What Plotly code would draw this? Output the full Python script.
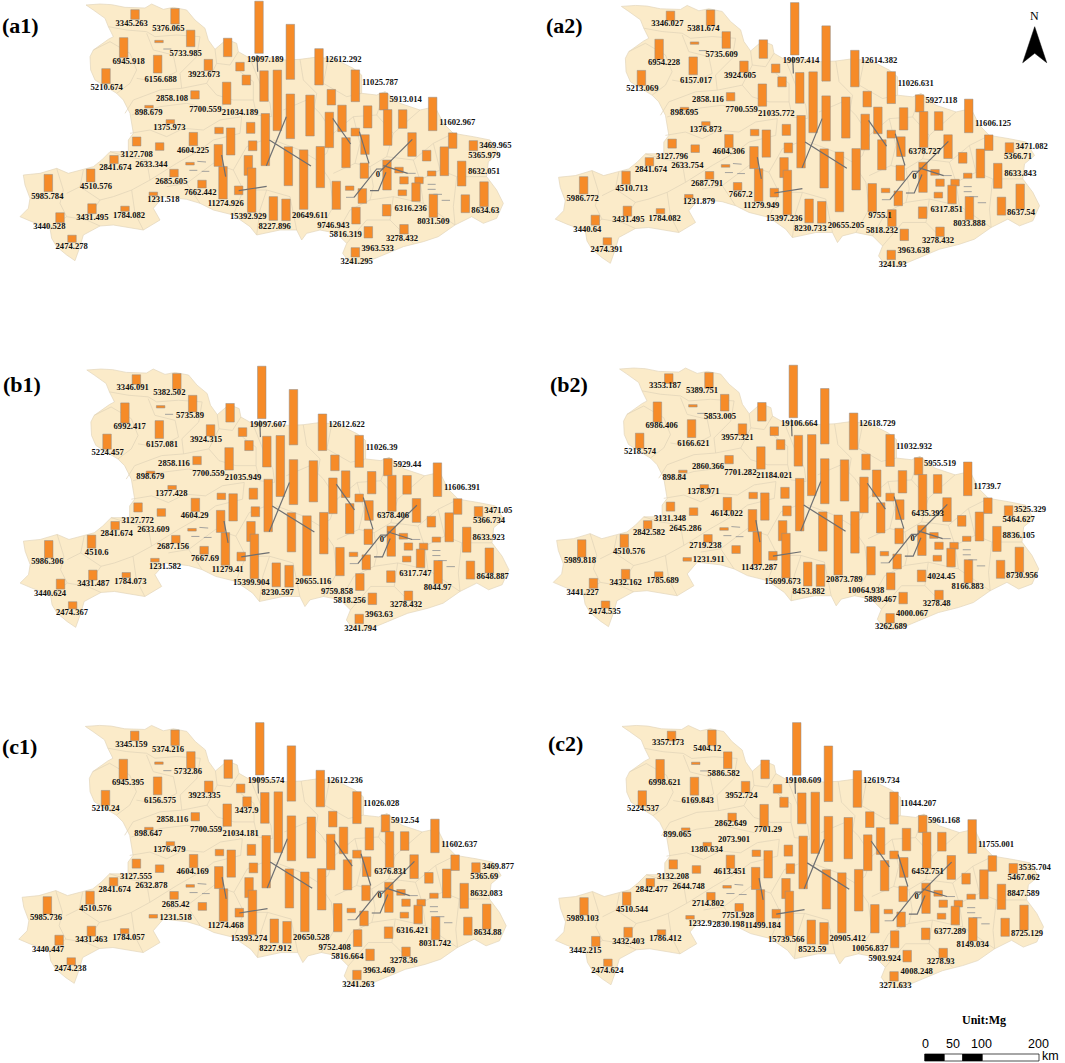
import plotly.graph_objects as go

bar_values = [3345, 5376, 810, 5733, 6945, 6400, 6156, 3923, 3000, 18100, 19097, 3437, 12612, 5210, 10600, 21034,
              11025, 2858, 7700, 898, 5400, 15500, 14200, 5913, 9200, 12300, 18100, 7700, 12400, 6450, 11602, 1376,
              3800, 2200, 9400, 2700, 6800, 8200, 5365, 3469, 3127, 4604, 3400, 2633, 10400, 7600, 13500, 6900,
              14300, 20649, 3700, 10000, 2841, 5300, 900, 8632, 10400, 2000, 4510, 2685, 1750, 5985, 2500, 2300,
              6400, 9746, 2700, 1500, 11274, 3000, 5100, 15392, 2000, 1231, 8031, 8634, 6200, 1784, 3431, 4000,
              8227, 7500, 5816, 3440, 3278, 3963, 2474, 3241]
bar_x = [405, 525, 477, 572, 371, 683, 473, 625, 720, 777, 871, 739, 957, 318, 792, 832,
         1066, 585, 680, 447, 994, 871, 930, 1151, 1026, 988, 796, 1103, 1163, 1208, 1298, 511,
         752, 657, 692, 1066, 1095, 1236, 1358, 1420, 410, 580, 758, 479, 1038, 655, 865, 745,
         961, 911, 1280, 1333, 342, 1093, 570, 1385, 1161, 1197, 272, 522, 1295, 145, 1212, 1257,
         1248, 1009, 606, 1049, 669, 716, 1087, 755, 1207, 460, 1300, 1452, 1396, 375, 276, 1160,
         820, 858, 1068, 180, 1212, 1105, 216, 1066]
bar_bottom = [58, 72, 128, 140, 173, 170, 219, 212, 213, 160, 238, 255, 255, 251, 304, 392,
              305, 297, 313, 324, 315, 416, 408, 330, 395, 443, 497, 384, 436, 385, 392, 371,
              400, 401, 465, 408, 463, 469, 445, 452, 438, 437, 452, 451, 503, 499, 557, 526,
              563, 628, 483, 527, 491, 535, 495, 558, 570, 519, 546, 531, 528, 575, 552, 551,
              604, 628, 564, 571, 597, 584, 610, 637, 587, 587, 652, 620, 638, 634, 641, 648,
              661, 662, 672, 668, 702, 714, 727, 771]

a1_labels = [3345.263, 5376.065, 5733.985, 6945.918, 19097.189, 12612.292, 6156.688, 3923.673, 5210.674, 11025.787,
             2858.108, 5913.014, 7700.559, 21034.189, 898.679, 1375.973, 11602.967, 3127.708, 4604.225, 3469.965,
             5365.979, 2841.674, 2633.344, 8632.051, 0, 2685.605, 4510.576, 7662.442, 5985.784, 1231.518,
             11274.926, 6316.236, 8634.63, 3431.495, 1784.082, 15392.929, 20649.611, 8031.509, 9746.943, 8227.896,
             3440.528, 5816.319, 3278.432, 2474.278, 3963.533, 3241.295]
a1_label_x = [395, 505, 557, 386, 796, 1030, 482, 612, 320, 1140, 516, 1217, 616, 720, 446, 508, 1372, 410, 579, 1486,
              1453, 346, 454, 1452, 1134, 514, 288, 601, 142, 490, 677, 1232, 1456, 277, 387, 745, 930, 1300, 1000,
              824, 148, 1037, 1206, 215, 1133, 1070]
a1_label_y = [72, 87, 163, 187, 180, 180, 241, 226, 265, 249, 296, 300, 329, 338, 338, 385, 369, 465, 452, 438,
              467, 505, 495, 515, 524, 545, 562, 578, 590, 601, 611, 626, 634, 655, 649, 651, 647, 665, 677,
              681, 682, 706, 716, 740, 746, 787]

a2_labels = [3346.027, 5381.674, 5735.609, 6954.228, 19097.414, 12614.382, 6157.017, 3924.605, 5213.069, 11026.631,
             2858.116, 5927.118, 7700.559, 21035.772, 898.695, 1376.873, 11606.125, 6378.727, 3127.796, 4604.306,
             3471.082, 5366.71, 2841.674, 2633.754, 8633.843, 0, 2687.791, 4510.713, 7667.2, 5986.772, 1231.879,
             11279.949, 6317.851, 8637.54, 3431.495, 1784.082, 15397.236, 20655.205, 8033.888, 9755.1, 8230.733,
             3440.64, 5818.232, 3278.432, 2474.391, 3963.638, 3241.93]
a2_label_x = [412, 520, 575, 402, 813, 1047, 498, 630, 337, 1157, 534, 1234, 635, 739, 463, 527, 1389, 1184, 426, 596,
              1505, 1464, 363, 472, 1471, 1153, 531, 305, 632, 158, 507, 694, 1250, 1473, 295, 404, 763, 948, 1318,
              1050, 841, 172, 1056, 1224, 230, 1151, 1088]
a2_label_y = [72, 87, 164, 188, 183, 183, 243, 227, 267, 252, 300, 304, 330, 342, 340, 389, 373, 456, 470, 456,
              442, 471, 509, 499, 521, 530, 551, 567, 585, 596, 607, 617, 631, 640, 660, 656, 656, 678, 672,
              648, 687, 690, 694, 723, 749, 753, 794]

b1_labels = [3346.091, 5382.502, 5735.89, 6992.417, 19097.607, 12612.622, 6157.081, 3924.315, 5224.457, 11026.39,
             2858.116, 5929.44, 7700.559, 21035.949, 898.679, 1377.428, 11606.391, 6378.406, 3127.772, 4604.29,
             3471.05, 5366.734, 2841.674, 2633.609, 8633.923, 0, 2687.156, 4510.6, 7667.69, 5986.306, 1231.582,
             11279.41, 6317.747, 8648.887, 3431.487, 1784.073, 15399.904, 20655.116, 8044.97, 9759.858, 8230.597,
             3440.624, 5818.256, 3278.432, 2474.367, 3963.63, 3241.794]
b1_label_x = [398, 508, 570, 389, 804, 1040, 486, 618, 323, 1145, 522, 1222, 625, 729, 451, 514, 1386, 1179, 413, 584,
              1495, 1467, 350, 460, 1466, 1146, 519, 290, 615, 142, 495, 683, 1246, 1478, 280, 391, 754, 940, 1313,
              1011, 833, 150, 1049, 1218, 216, 1137, 1081]
b1_label_y = [113, 129, 197, 231, 225, 225, 285, 270, 309, 294, 341, 345, 372, 383, 381, 431, 415, 497, 512, 497,
              484, 513, 552, 541, 563, 571, 592, 609, 627, 636, 650, 659, 673, 682, 703, 697, 699, 695, 714,
              725, 729, 731, 754, 765, 790, 795, 836]

b2_labels = [3353.187, 5389.751, 5853.005, 6986.406, 19106.664, 12618.729, 6166.621, 3957.321, 5218.574, 11032.932,
             2860.366, 5955.519, 7701.282, 21184.021, 898.84, 1378.971, 11739.7, 6435.393, 3131.348, 4614.022,
             3525.329, 5464.627, 2842.582, 2645.286, 8836.105, 0, 2719.238, 4510.576, 5989.818, 1231.911,
             11437.287, 4024.45, 8730.956, 3432.162, 1785.689, 15699.673, 20873.789, 8166.883, 10064.938, 8453.882,
             3441.227, 5889.467, 3278.48, 2474.535, 4000.067, 3262.689]
b2_label_x = [405, 516, 570, 395, 808, 1042, 490, 622, 330, 1152, 534, 1230, 631, 733, 433, 520, 1372, 1193, 420, 590,
              1500, 1466, 357, 466, 1466, 1148, 526, 297, 150, 536, 688, 1234, 1476, 287, 398, 758, 943, 1313, 1008,
              836, 158, 1051, 1220, 224, 1146, 1083]
b2_label_y = [109, 124, 201, 227, 221, 221, 281, 265, 305, 290, 352, 341, 368, 379, 384, 427, 411, 493, 508, 493,
              480, 509, 548, 538, 559, 567, 589, 605, 632, 631, 655, 681, 679, 699, 693, 695, 691, 710, 722,
              726, 728, 750, 761, 786, 791, 832]

c1_labels = [3345.159, 5374.216, 5732.86, 6945.395, 19095.574, 12612.236, 6156.575, 3923.335, 5210.24, 3437.9,
             11026.028, 2858.116, 5912.54, 7700.559, 21034.181, 898.647, 1376.479, 11602.637, 6376.831, 3127.555,
             4604.169, 3469.877, 5365.69, 2841.674, 2632.878, 8632.083, 0, 2685.42, 4510.576, 5985.736, 1231.518,
             11274.468, 6316.421, 8634.88, 3431.463, 1784.057, 15393.274, 20650.528, 8031.742, 9752.408, 8227.912,
             3440.447, 5816.664, 3278.36, 2474.238, 3963.469, 3241.263]
c1_label_x = [394, 504, 564, 384, 798, 1034, 480, 613, 317, 740, 1144, 517, 1215, 618, 722, 445, 508, 1378, 1171, 408,
              578, 1494, 1453, 344, 454, 1459, 1139, 527, 286, 138, 527, 677, 1237, 1463, 274, 386, 747, 934, 1305,
              1004, 826, 144, 1042, 1211, 211, 1137, 1075]
c1_label_y = [164, 179, 247, 280, 274, 274, 334, 318, 358, 362, 342, 389, 393, 421, 431, 431, 479, 464, 545, 561,
              545, 532, 561, 600, 589, 611, 619, 645, 657, 685, 683, 707, 722, 730, 751, 745, 748, 743, 761,
              773, 777, 779, 802, 813, 838, 843, 884]

c2_labels = [3357.173, 5404.12, 5886.582, 6998.621, 19108.609, 12619.734, 6169.843, 3952.724, 5224.537, 11044.207,
             2862.649, 5961.168, 7701.29, 899.065, 2073.901, 1380.634, 11755.001, 6452.751, 3132.208, 4613.451,
             3535.704, 5467.062, 2842.477, 2644.748, 8847.589, 0, 2714.802, 4510.544, 7751.928, 5989.103, 1232.9,
             2830.198, 11499.184, 6377.289, 8725.129, 3432.403, 1786.412, 15739.566, 20905.412, 8149.034, 10056.837,
             8523.59, 3442.215, 5903.924, 3278.93, 2474.624, 4008.248, 3271.633]
c2_label_x = [414, 532, 581, 404, 819, 1054, 503, 634, 339, 1165, 602, 1242, 714, 442, 612, 530, 1398, 1193, 429, 599,
              1514, 1481, 365, 476, 1480, 1160, 534, 306, 624, 158, 510, 595, 698, 1260, 1491, 295, 406, 769, 953,
              1328, 1020, 847, 166, 1064, 1232, 232, 1160, 1096]
c2_label_y = [160, 176, 252, 278, 274, 274, 333, 318, 357, 342, 403, 393, 420, 436, 451, 480, 464, 546, 561, 547,
              533, 563, 601, 591, 613, 622, 643, 659, 677, 687, 701, 706, 709, 725, 733, 755, 748, 751, 746,
              766, 776, 780, 782, 806, 816, 842, 846, 887]

# panel: labels, x, y, crop origin of the label readings, map scale x/y and offset x/y
panels = {
    "a1": (a1_labels, a1_label_x, a1_label_y, (0, 0), (1.0, 1.0, 0.0, 0.0), (20, 25.7)),
    "a2": (a2_labels, a2_label_x, a2_label_y, (530, 0), (1.002, 1.0049, 535.2, 1.4), (564, 25)),
    "b1": (b1_labels, b1_label_x, b1_label_y, (0, 350), (1.0113, 1.0065, -0.15, 365), (21.7, 384)),
    "b2": (b2_labels, b2_label_x, b2_label_y, (530, 350), (1.0044, 1.0077, 533.2, 364), (569, 384)),
    "c1": (c1_labels, c1_label_x, c1_label_y, (0, 690), (1.0085, 1.005, -1.4, 721.4), (19.3, 746.7)),
    "c2": (c2_labels, c2_label_x, c2_label_y, (530, 690), (1.0099, 1.0105, 535.2, 721.4), (565, 743.3)),
}

outline = [(258, 15), (300, 12), (335, 14), (375, 22), (435, 24), (455, 12), (490, 28), (520, 22), (560, 30), (585, 60),
           (615, 85), (625, 120), (645, 148), (680, 118), (710, 130), (715, 155), (750, 175), (775, 168), (820, 175),
           (855, 180), (900, 178), (945, 172), (985, 175), (1020, 185), (1060, 205), (1085, 225), (1085, 280),
           (1130, 285), (1155, 275), (1200, 310), (1260, 330), (1305, 320), (1330, 370), (1360, 400), (1420, 410),
           (1470, 420), (1495, 460), (1465, 485), (1460, 530), (1490, 570), (1510, 610), (1490, 655), (1450, 670),
           (1415, 650), (1365, 675), (1315, 710), (1270, 725), (1210, 740), (1150, 765), (1090, 790), (1050, 790),
           (1028, 760), (1040, 730), (1010, 700), (960, 690), (920, 700), (905, 720), (890, 690), (840, 690),
           (790, 702), (770, 705), (750, 680), (700, 645), (640, 630), (600, 610), (560, 598), (490, 590), (460, 625),
           (480, 660), (430, 690), (340, 675), (300, 678), (250, 705), (240, 740), (225, 782), (200, 765), (170, 740),
           (155, 715), (150, 685), (95, 665), (60, 650), (85, 625), (90, 595), (75, 555), (70, 525), (120, 520),
           (170, 505), (205, 520), (280, 500), (305, 480), (330, 455), (385, 455), (385, 420), (400, 400), (390, 340),
           (370, 300), (350, 280), (285, 240), (272, 210), (270, 170), (280, 150), (325, 118), (340, 110), (325, 80),
           (315, 55), (280, 30), (258, 15)]

county_lines = [
    [(325, 80), (380, 90), (440, 95), (465, 110), (530, 105), (600, 110)],
    [(280, 150), (330, 125), (390, 160), (410, 210), (390, 250), (350, 280)],
    [(440, 100), (460, 150), (520, 165), (530, 215), (470, 245), (410, 235)],
    [(600, 110), (590, 170), (540, 220), (545, 265), (480, 270), (400, 300), (375, 340)],
    [(645, 148), (650, 190), (690, 195), (715, 155)],
    [(650, 190), (620, 250), (545, 265)],
    [(720, 215), (760, 245), (760, 300), (700, 300), (650, 285), (620, 250)],
    [(750, 175), (780, 250), (810, 310), (815, 350), (770, 345), (760, 300)],
    [(395, 345), (480, 320), (560, 310), (650, 330), (690, 300)],
    [(390, 400), (450, 390), (500, 410), (550, 385), (610, 390), (660, 360), (725, 350)],
    [(330, 455), (380, 470), (440, 480), (450, 540), (395, 570), (405, 640), (430, 690)],
    [(170, 505), (190, 570), (180, 610), (200, 650), (150, 685)],
    [(250, 510), (240, 560), (200, 580)],
    [(240, 560), (300, 600), (340, 590), (395, 570)],
    [(200, 650), (260, 660), (300, 678)],
    [(300, 600), (260, 660)],
    [(450, 540), (530, 490), (600, 450), (640, 420), (720, 400), (725, 350)],
    [(500, 560), (560, 550), (600, 610)],
    [(560, 550), (640, 490), (700, 510), (740, 440)],
    [(700, 510), (730, 570), (700, 645)],
    [(740, 440), (790, 420)],
    [(730, 570), (800, 570), (870, 590), (890, 690)],
    [(800, 570), (780, 630), (770, 705)],
    [(860, 240), (870, 190)],
    [(900, 178), (910, 240), (950, 280), (940, 340)],
    [(985, 175), (970, 250), (1040, 290), (1085, 280)],
    [(850, 330), (920, 300), (960, 340), (1000, 400), (1060, 350), (1130, 345), (1155, 275)],
    [(1000, 400), (980, 460), (950, 480), (900, 450), (820, 420)],
    [(950, 480), (990, 540), (1000, 620), (960, 690)],
    [(1060, 350), (1080, 430), (1065, 490), (1000, 520)],
    [(1130, 345), (1180, 400), (1260, 330)],
    [(1180, 400), (1160, 470), (1110, 500), (1065, 490)],
    [(1160, 470), (1240, 480), (1300, 430), (1360, 400)],
    [(1300, 430), (1320, 510), (1370, 530), (1460, 530)],
    [(1240, 480), (1260, 540), (1320, 510)],
    [(1260, 540), (1270, 610), (1365, 675)],
    [(1270, 610), (1180, 590), (1110, 600)],
    [(1110, 600), (1050, 630), (1010, 700)],
    [(1180, 590), (1170, 660), (1240, 730)],
    [(1170, 660), (1100, 660), (1040, 730)],
    [(1370, 530), (1360, 620), (1365, 675)],
    [(1110, 500), (1120, 560), (1110, 600)],
]

leader_lines = [
    [(771, 165), (773, 215)],
    [(859, 350), (799, 497)],
    [(808, 420), (933, 498)],
    [(665, 465), (677, 530)],
    [(716, 572), (800, 559)],
    [(998, 355), (1052, 432)],
    [(1078, 395), (1107, 490)],
    [(1237, 418), (1140, 515)],
    [(1062, 592), (1130, 507), (1150, 507)],
    [(1150, 497), (1223, 520)],
    [(1158, 517), (1135, 572), (1110, 572)],
]
# near zero counties only show up as a short grey dash
zero_dashes = [
    [(490, 147), (514, 147)],
    [(592, 484), (618, 486)],
    [(568, 511), (592, 511)],
    [(605, 514), (628, 514)],
    [(1038, 592), (1062, 592)],
    [(1283, 553), (1307, 553)],
    [(1283, 568), (1307, 568)],
    [(1300, 583), (1326, 583)],
    [(1325, 601), (1350, 601)],
    [(1222, 520), (1247, 520)],
]

px_per_mg = 0.00288  # bar height in page pixels per Mg


def map_lines(lines, m):
    xs, ys = [], []
    for line in lines:
        for px, py in line:
            xs.append(m[0] * px / 3 + m[2])
            ys.append(m[1] * py / 3 + m[3])
        xs.append(None)
        ys.append(None)
    return xs, ys


fig = go.Figure()

# plotly puts bars under scatter on one subplot, so map / bars / lines get a pair of axes each
for name, (labels, lx, ly, origin, m, title_pos) in panels.items():
    xs, ys = map_lines([outline], m)
    fig.add_trace(go.Scatter(x=xs[:-1], y=ys[:-1], mode="lines", fill="toself", fillcolor="#fbebc9",
                             line=dict(color="#e2d6bb", width=0.7), hoverinfo="skip"))
    xs, ys = map_lines(county_lines, m)
    fig.add_trace(go.Scatter(x=xs, y=ys, mode="lines", line=dict(color="#dfd3b8", width=0.7), hoverinfo="skip"))
    fig.add_trace(go.Bar(x=[m[0] * v / 3 + m[2] for v in bar_x],
                         base=[m[1] * v / 3 + m[3] for v in bar_bottom],
                         y=[-v * px_per_mg * m[1] for v in bar_values],
                         width=8.5, marker=dict(color="#f68b28", line=dict(color="#8d8d8d", width=0.5)),
                         hoverinfo="skip", xaxis="x2", yaxis="y2"))
    xs, ys = map_lines(zero_dashes, m)
    fig.add_trace(go.Scatter(x=xs, y=ys, mode="lines", line=dict(color="#9a9a98", width=0.9), hoverinfo="skip",
                             xaxis="x3", yaxis="y3"))
    xs, ys = map_lines(leader_lines, m)
    fig.add_trace(go.Scatter(x=xs, y=ys, mode="lines", line=dict(color="#6d6f72", width=1.2), hoverinfo="skip",
                             xaxis="x3", yaxis="y3"))
    fig.add_trace(go.Scatter(x=[origin[0] + v / 3 for v in lx], y=[origin[1] + v / 3 for v in ly],
                             mode="text", text=["<b>%s</b>" % v for v in labels],
                             textfont=dict(family="Liberation Serif", size=8.6, color="#111111"),
                             textposition="middle center", cliponaxis=False, hoverinfo="skip",
                             xaxis="x3", yaxis="y3"))
    fig.add_annotation(x=title_pos[0], y=title_pos[1], text="<b>(%s)</b>" % name, showarrow=False,
                       font=dict(family="Liberation Serif", size=22, color="black"))

# north arrow
fig.add_trace(go.Scatter(x=[1034.7, 1022.7, 1034.7, 1046.7, 1034.7], y=[26.7, 62.7, 53.3, 62.7, 26.7], mode="lines",
                         fill="toself", fillcolor="black", line=dict(color="black", width=0.5), hoverinfo="skip"))
fig.add_annotation(x=1034.7, y=15.7, text="N", showarrow=False,
                   font=dict(family="Liberation Serif", size=12, color="black"))

# unit and scale bar
scale_ticks = [0, 50, 100, 200]
scale_tick_x = [925.3, 953, 981.3, 1038]
fig.add_annotation(x=984, y=1020, text="<b>Unit:Mg</b>", showarrow=False,
                   font=dict(family="Liberation Serif", size=12, color="black"))
for t, x in zip(scale_ticks, scale_tick_x):
    fig.add_annotation(x=x, y=1043.5, text=str(t), showarrow=False,
                       font=dict(family="Liberation Sans", size=12.5, color="black"))
fig.add_annotation(x=1050, y=1056, text="km", showarrow=False,
                   font=dict(family="Liberation Sans", size=12.5, color="black"))
for x0, x1, c in [(924.7, 944.3, "black"), (944.3, 962.7, "white"), (962.7, 982.3, "black"), (982.3, 1039, "white")]:
    fig.add_shape(type="rect", x0=x0, x1=x1, y0=1054, y1=1061, fillcolor=c, line=dict(color="black", width=0.7))

fig.update_layout(
    xaxis=dict(range=[0, 1065], visible=False),
    yaxis=dict(range=[1063, 0], visible=False),
    xaxis2=dict(range=[0, 1065], visible=False, overlaying="x"),
    yaxis2=dict(range=[1063, 0], visible=False, overlaying="y"),
    xaxis3=dict(range=[0, 1065], visible=False, overlaying="x"),
    yaxis3=dict(range=[1063, 0], visible=False, overlaying="y"),
    width=1065, height=1063, autosize=False, margin=dict(l=0, r=0, t=0, b=0), showlegend=False,
    barmode="overlay", paper_bgcolor="white", plot_bgcolor="white",
)

fig.write_html("out.html", config={"displayModeBar": False}, post_script="document.body.style.margin='0';")
